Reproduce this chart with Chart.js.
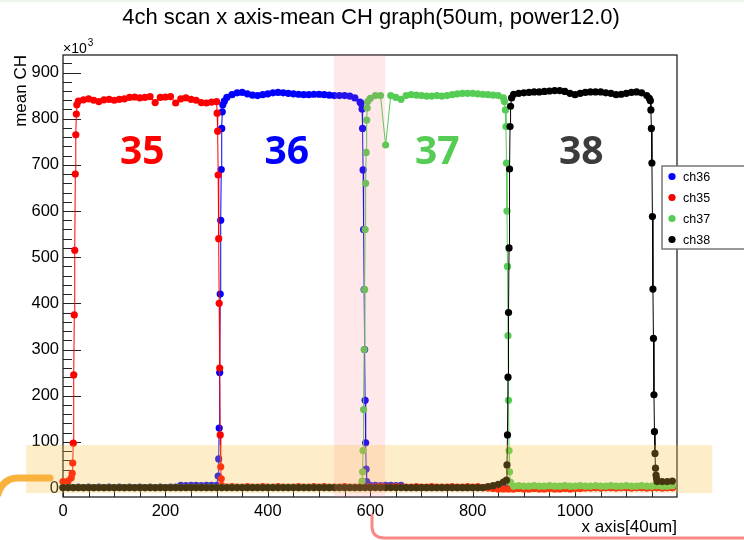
<!DOCTYPE html>
<html><head><meta charset="utf-8">
<script src="https://cdn.jsdelivr.net/npm/chart.js@4.4.0/dist/chart.umd.min.js"></script>
<style>html,body{margin:0;padding:0;background:#fff;}canvas{display:block;}</style>
</head><body>
<canvas id="c" width="744" height="540"></canvas>
<script>
// ---- data (mean CH in units of 10^3, x in units of 40um) ----
const gridX = [0,10,20,30,40,50,60,70,80,90,100,110,120,130,140,150,160,170,180,190,
200,210,220,230,240,250,260,270,280,290,300,310,320,330,340,350,360,370,380,390,
400,410,420,430,440,450,460,470,480,490,500,510,520,530,540,550,560,570,580,590,
600,610,620,630,640,650,660,670,680,690,700,710,720,730,740,750,760,770,780,790,
800,810,820,830,840,850,860,870,880,890,900,910,920,930,940,950,960,970,980,990,
1000,1010,1020,1030,1040,1050,1060,1070,1080,1090,1100,1110,1120,1130,1140,1150,1160,1170,1180,1190];

const seriesNames = ['ch36','ch35','ch37','ch38'];
const seriesColors = ['#0000ff','#ff0000','#55cd55','#000000'];

const ch36Grid = [1,2,1,2,1,2,1,2,1,2,
1,2,1,2,1,2,1,2,1,2,
1,2,2,6,5,6,6,5,6,6,
6,779,846,852,856,857,854,851,850,852,
854,856,857,856,855,854,853,852,852,853,
853,852,851,850,850,850,849,845,836,190,
6,6,5,6,6,5,6,1,1,1,
1,1,1,1,1,1,1,1,1,1,
1,1,1,1,1,1,1,1,1,1,
1,1,1,1,1,1,1,1,1,1,
1,1,1,1,1,1,1,1,1,1,
1,1,1,1,1,1,1,1,1,1];
const ch36EdgeX = [303,304,305,306,307,308,309,311,312,315,582,584,585,586,587,588,589,591,592,593];
const ch36EdgeY = [26,63,130,250,420,580,690,815,830,838,833,821,779,689,560,430,300,98,41,14];

const ch35Grid = [14,15,97,838,841,843,840,837,841,842,
840,842,843,846,847,845,846,848,835,846,
847,848,834,843,845,842,840,835,834,836,
837,5,2,3,2,2,3,2,2,3,
2,2,3,2,2,2,3,2,2,3,
2,3,2,2,2,3,2,2,3,2,
2,2,3,2,2,3,2,2,2,3,
2,2,3,2,2,2,3,2,2,3,
2,3,1,0,-1,-2,-2,-2,-2,-1,
-2,-2,-1,-2,-2,-1,-2,-2,-1,-2,
-1,-1,0,0,1,0,1,1,0,1,
1,0,1,1,0,1,1,0,1,1];
const ch35EdgeX = [16,18,19,21,22,23,24,25,26,27,301,302,303,304,305,306,307,308,309];
const ch35EdgeY = [22,32,54,245,375,515,680,765,810,830,812,773,678,540,400,260,115,46,20];

const ch37Grid = [1,1,1,1,1,1,1,1,1,1,
1,1,1,1,1,1,1,1,1,1,
1,1,1,1,1,1,1,1,1,1,
1,1,1,1,1,1,1,1,1,1,
1,1,1,1,1,1,1,1,1,1,
1,1,1,1,1,1,1,1,1,560,
844,850,850,743,850,846,842,850,852,851,
850,849,849,850,849,850,852,854,855,855,
855,854,853,852,851,850,845,190,4,5,
4,4,5,4,4,5,4,4,5,4,
4,5,4,4,5,4,4,5,4,4,
5,4,4,5,4,4,5,4,4,5];
const ch37EdgeX = [584,585,586,587,588,589,591,592,593,594,595,862,864,865,866,867,868,869,871,872,874];
const ch37EdgeY = [15,35,81,170,300,430,660,727,797,823,837,837,819,783,704,600,480,330,81,35,12];

const ch38Grid = [1,1,1,1,1,1,1,1,1,1,
1,1,1,1,1,1,1,1,1,1,
1,1,1,1,1,1,1,1,1,1,
1,1,1,1,1,1,1,1,1,1,
1,1,1,1,1,1,1,1,1,1,
1,1,1,1,1,1,1,1,1,1,
1,1,1,1,1,1,1,1,1,1,
1,1,1,1,1,1,1,1,1,1,
1,1,1,3,5,8,13,380,853,855,
856,857,858,858,859,860,861,861,859,855,
852,855,857,858,858,858,856,855,852,853,
855,857,858,856,850,704,14,14,14,15];
const ch38EdgeX = [866,867,868,869,871,872,873,874,876,1145,1147,1148,1149,1151,1152,1153,1154,1155,1156,1157,1158,1159];
const ch38EdgeY = [17,50,115,240,520,691,783,827,845,844,839,819,779,588,431,324,202,122,75,43,28,21];

const yTickValues = [0,100,200,300,400,500,600,700,800,900];
const xTickValues = [0,200,400,600,800,1000];

// channel annotations (data coords)
const chanLabels = ['35','36','37','38'];
const chanLabelX = [155,437,731,1012];
const chanLabelY = 726;
const chanLabelColors = ['#ff0000','#0000ff','#55cd55','#3c3c3c'];

function buildPoints(gridY, edgeX, edgeY) {
  const pts = gridX.map((x, i) => ({x: x, y: gridY[i]}));
  edgeX.forEach((x, i) => pts.push({x: x, y: edgeY[i]}));
  pts.sort((a, b) => a.x - b.x);
  return pts;
}

const allSeries = [
  buildPoints(ch36Grid, ch36EdgeX, ch36EdgeY),
  buildPoints(ch35Grid, ch35EdgeX, ch35EdgeY),
  buildPoints(ch37Grid, ch37EdgeX, ch37EdgeY),
  buildPoints(ch38Grid, ch38EdgeX, ch38EdgeY)
];

const FONT = "'Liberation Sans', Arial, Helvetica, sans-serif";

const deco = {
  id: 'deco',
  beforeDatasetsDraw(chart) {
    const {ctx, chartArea: a, scales: {x, y}} = chart;
    ctx.save();
    ctx.strokeStyle = '#222';
    ctx.lineWidth = 1;
    for (let v = 0; v <= 920; v += 20) {
      const py = Math.round(y.getPixelForValue(v)) + 0.5;
      const len = v % 100 === 0 ? 18 : 9;
      ctx.beginPath(); ctx.moveTo(a.left, py); ctx.lineTo(a.left + len, py); ctx.stroke();
    }
    for (let v = 0; v <= 1150; v += 50) {
      const px = Math.round(x.getPixelForValue(v)) + 0.5;
      const len = v % 200 === 0 ? 9 : 7;
      ctx.beginPath(); ctx.moveTo(px, a.bottom); ctx.lineTo(px, a.bottom - len); ctx.stroke();
    }
    ctx.lineWidth = 1.3;
    ctx.strokeRect(a.left, a.top, a.right - a.left, a.bottom - a.top);
    ctx.restore();
  },
  afterDraw(chart) {
    const {ctx, chartArea: a, scales: {x, y}} = chart;
    ctx.save();
    // title
    ctx.fillStyle = '#000';
    ctx.font = '22px ' + FONT;
    ctx.textAlign = 'center';
    ctx.textBaseline = 'middle';
    ctx.fillText('4ch scan x axis-mean CH graph(50um, power12.0)', 371, 18);
    // x10^3
    ctx.textAlign = 'left';
    ctx.textBaseline = 'alphabetic';
    ctx.font = '14px ' + FONT;
    ctx.fillText('\u00d710', a.left, 53);
    const w = ctx.measureText('\u00d710').width;
    ctx.font = '10px ' + FONT;
    ctx.fillText('3', a.left + w + 1, 46);
    // channel labels
    ctx.font = "bold 39px 'Open Sans', sans-serif";
    ctx.textAlign = 'center';
    ctx.textBaseline = 'middle';
    chanLabels.forEach((t, i) => {
      ctx.fillStyle = chanLabelColors[i];
      ctx.fillText(t, x.getPixelForValue(chanLabelX[i]), y.getPixelForValue(chanLabelY));
    });
    // legend
    const lx = 662, ly = 166, lh = 83;
    ctx.fillStyle = '#fff';
    ctx.fillRect(lx, ly, 120, lh);
    ctx.strokeStyle = '#777';
    ctx.lineWidth = 1.5;
    ctx.strokeRect(lx, ly, 120, lh);
    ctx.font = '12.5px ' + FONT;
    ctx.textAlign = 'left';
    chart.data.datasets.forEach((ds, i) => {
      const ey = ly + 10.5 + i * 21;
      ctx.fillStyle = ds.borderColor;
      ctx.beginPath(); ctx.arc(lx + 10, ey, 3.6, 0, Math.PI * 2); ctx.fill();
      ctx.fillStyle = '#000';
      ctx.fillText(ds.label, lx + 21, ey + 1);
    });
    // pink band
    const pbx0 = x.getPixelForValue(529), pbx1 = x.getPixelForValue(629);
    ctx.fillStyle = 'rgba(250,110,125,0.16)';
    ctx.fillRect(pbx0, a.top, pbx1 - pbx0, a.bottom - a.top);
    // yellow band
    const ybx0 = x.getPixelForValue(-72), ybx1 = x.getPixelForValue(1268);
    const yby0 = y.getPixelForValue(93), yby1 = y.getPixelForValue(-11);
    ctx.fillStyle = 'rgba(250,190,60,0.28)';
    ctx.fillRect(ybx0, yby0, ybx1 - ybx0, yby1 - yby0);
    // orange stroke
    ctx.strokeStyle = 'rgb(250,178,62)';
    ctx.lineWidth = 7;
    ctx.lineCap = 'round';
    ctx.beginPath();
    ctx.moveTo(-2, 494);
    ctx.quadraticCurveTo(3, 478, 18, 478);
    ctx.lineTo(50, 478);
    ctx.stroke();
    // pink connector
    ctx.strokeStyle = 'rgb(250,135,135)';
    ctx.lineWidth = 3;
    ctx.lineCap = 'butt';
    ctx.beginPath();
    ctx.moveTo(372, 514);
    ctx.lineTo(372, 526);
    ctx.quadraticCurveTo(372, 538, 385, 538);
    ctx.lineTo(746, 538);
    ctx.stroke();
    // top border tint
    ctx.fillStyle = 'rgb(236,244,236)';
    ctx.fillRect(0, 0, 744, 2);
    ctx.restore();
  }
};

new Chart(document.getElementById('c'), {
  type: 'line',
  data: {
    datasets: allSeries.map((pts, i) => ({
      label: seriesNames[i],
      data: pts,
      borderColor: seriesColors[i],
      backgroundColor: seriesColors[i],
      pointBackgroundColor: seriesColors[i],
      pointBorderWidth: 0,
      pointRadius: 3.6,
      borderWidth: 1,
      tension: 0,
      fill: false,
      clip: false,
      order: 4 - i
    }))
  },
  options: {
    responsive: false,
    animation: false,
    devicePixelRatio: 1,
    layout: {padding: {left: 0, right: 67, top: 55, bottom: 0}},
    plugins: {legend: {display: false}, title: {display: false}, tooltip: {enabled: false}},
    events: [],
    scales: {
      x: {
        type: 'linear', position: 'bottom', min: 0, max: 1199,
        grid: {display: false, drawTicks: false},
        border: {display: false},
        afterBuildTicks: s => { s.ticks = xTickValues.map(v => ({value: v})); },
        ticks: {autoSkip: false, maxRotation: 0, padding: 5, color: '#000', font: {family: FONT, size: 16.5}, callback: v => String(v)},
        title: {display: true, text: 'x axis[40um]', align: 'end', color: '#000', font: {family: FONT, size: 17}, padding: {top: 0, bottom: 2}},
        afterFit: s => { s.height = 43; }
      },
      y: {
        type: 'linear', position: 'left', min: -19.5, max: 938,
        grid: {display: false, drawTicks: false},
        border: {display: false},
        afterBuildTicks: s => { s.ticks = yTickValues.map(v => ({value: v})); },
        ticks: {autoSkip: false, padding: 4, color: '#000', font: {family: FONT, size: 16.5}, callback: v => String(v)},
        title: {display: true, text: 'mean CH', align: 'end', color: '#000', font: {family: FONT, size: 17}, padding: {top: 11, bottom: 0}},
        afterFit: s => { s.width = 63; }
      }
    }
  },
  plugins: [deco]
});
</script>
</body></html>
